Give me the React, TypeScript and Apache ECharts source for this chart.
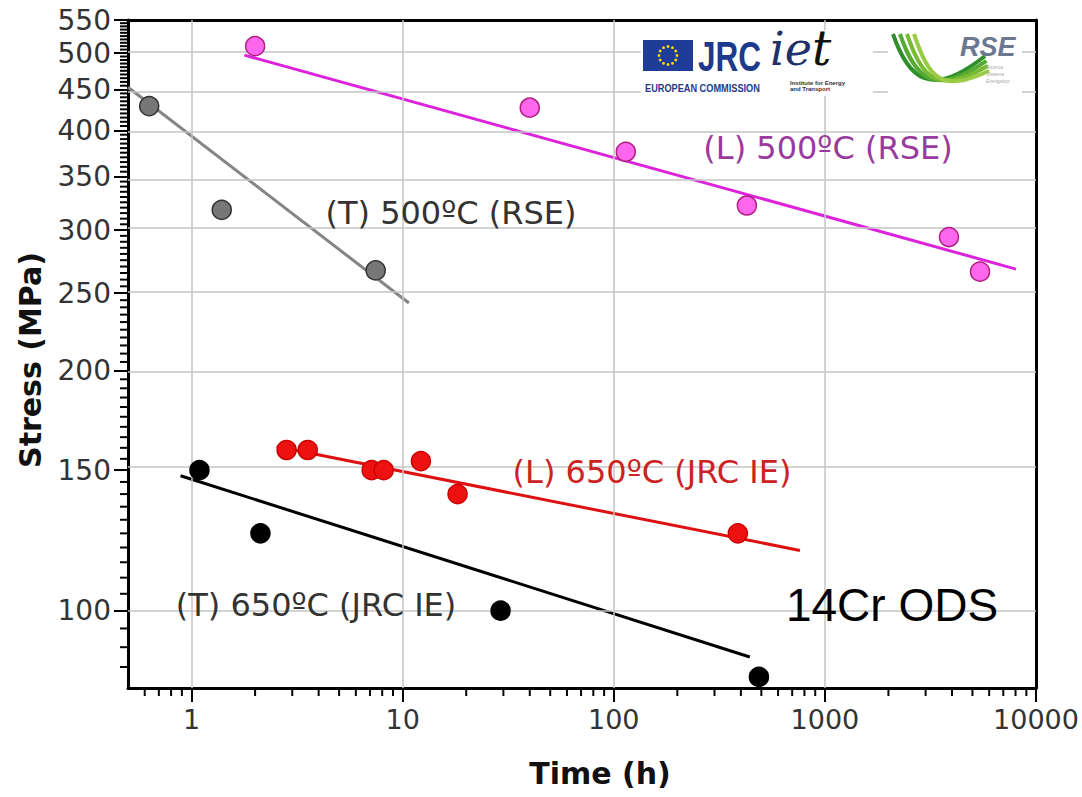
import React, { useEffect, useRef } from "react";
import * as echarts from "echarts";

const L = (v: number) => Math.log10(v);

// axis ranges (raw units)
const timeRange = [0.5, 10000];
const stressRange = [80, 550];

// tick labels
const timeTickLabels = [1, 10, 100, 1000, 10000];
const stressTickLabels = [100, 150, 200, 250, 300, 350, 400, 450, 500, 550];
const timeGridValues = [1, 10, 100, 1000];
const stressGridValues = [100, 150, 200, 250, 300, 350, 400, 450, 500];

// (L) 500ºC (RSE)
const l500Time = [2.0, 40, 114, 427, 3870, 5430];
const l500Stress = [510, 427, 376, 322, 294, 266];
const l500FitTime = [1.78, 8040];
const l500FitStress = [497, 268];

// (T) 500ºC (RSE)
const t500Time = [0.63, 1.39, 7.45];
const t500Stress = [429, 318, 267];
const t500FitTime = [0.5, 10.7];
const t500FitStress = [453, 243];

// (L) 650ºC (JRC IE)
const l650Time = [2.82, 3.55, 7.13, 8.13, 12.2, 18.2, 387];
const l650Stress = [159, 159, 150, 150, 154, 140, 125];
const l650FitTime = [2.53, 762];
const l650FitStress = [160.6, 119];

// (T) 650ºC (JRC IE)
const t650Time = [1.09, 2.12, 29.1, 487];
const t650Stress = [150, 125, 100, 82.6];
const t650FitTime = [0.887, 441];
const t650FitStress = [147.6, 87.5];

const timeMinorTicks: number[] = [];
for (const d of [0.1, 1, 10, 100, 1000]) {
  for (let k = 2; k <= 9; k++) {
    const v = k * d;
    if (v > 0.5001 && v < 10000) timeMinorTicks.push(v);
  }
}
const stressMinorTicks: number[] = [];
for (let v = 85; v <= 545; v += 5) {
  if (v % 50 !== 0) stressMinorTicks.push(v);
}

const pts = (t: number[], s: number[]) => t.map((x, i) => [L(x), L(s[i])]);

const TICK_FONT = "DejaVu Sans";

function buildOption() {
  const xmin = L(timeRange[0]);
  const xmax = L(timeRange[1]);
  const ymin = L(stressRange[0]);
  const ymax = L(stressRange[1]);

  const baseX = { type: "value", min: xmin, max: xmax, splitLine: { show: false } };
  const baseY = { type: "value", min: ymin, max: ymax, splitLine: { show: false } };

  const scatter = (name: string, data: number[][], fill: string, border: string) => ({
    type: "scatter",
    name,
    data,
    symbol: "circle",
    symbolSize: 19,
    z: 5,
    itemStyle: { color: fill, borderColor: border, borderWidth: 1.5, opacity: 1 },
  });
  const fit = (name: string, data: number[][], color: string) => ({
    type: "line",
    name,
    data,
    showSymbol: false,
    symbol: "none",
    z: 4,
    lineStyle: { color, width: 3 },
  });

  const minorTicks = (name: string, data: number[][], horizontal: boolean) => ({
    type: "custom",
    name,
    data,
    z: 10,
    silent: true,
    clip: false,
    encode: { x: 0, y: 1 },
    renderItem: (_params: any, api: any) => {
      const p = api.coord([api.value(0), api.value(1)]);
      const shape = horizontal
        ? { x1: p[0] - 8, y1: p[1], x2: p[0], y2: p[1] }
        : { x1: p[0], y1: p[1], x2: p[0], y2: p[1] + 8 };
      return { type: "line", shape, style: { stroke: "#000", lineWidth: 2 } };
    },
  });

  const graphic: any[] = [];
  const text = (t: string, x: number, y: number, font: string, fill: string, extra: any = {}) => ({
    type: "text",
    x,
    y,
    z: 100,
    ...extra,
    style: {
      text: t,
      font,
      fill,
      align: extra.align || "center",
      textAlign: extra.align || "center",
      verticalAlign: "middle",
      textVerticalAlign: "middle",
    },
  });
  const ltext = (t: string, x: number, y: number, font: string, fill: string, extra: any = {}) => ({
    type: "text",
    x,
    y,
    z: 100,
    ...extra,
    style: { text: t, font, fill, lineHeight: extra.lineHeight, align: "left", textAlign: "left", verticalAlign: "top", textVerticalAlign: "top" },
  });

  // axis titles
  graphic.push(text("Stress (MPa)", 30, 360, `bold 30px "${TICK_FONT}"`, "#111", { rotation: Math.PI / 2 }));
  graphic.push(text("Time (h)", 600, 773, `bold 30px "${TICK_FONT}"`, "#111"));

  // series annotations
  graphic.push(text("(L) 500ºC (RSE)", 828, 148, `32px "${TICK_FONT}"`, "#9a3a9e"));
  graphic.push(text("(T) 500ºC (RSE)", 451, 213, `32px "${TICK_FONT}"`, "#333333"));
  graphic.push(text("(L) 650ºC (JRC IE)", 652, 472, `32px "${TICK_FONT}"`, "#cc2222"));
  graphic.push(text("(T) 650ºC (JRC IE)", 316, 605, `32px "${TICK_FONT}"`, "#333333"));
  graphic.push(text("14Cr ODS", 892, 605, `46px "Liberation Sans"`, "#000000"));

  // logos: white backgrounds
  graphic.push({ type: "rect", z: 90, shape: { x: 641, y: 32, width: 132, height: 64 }, style: { fill: "#ffffff" } });
  graphic.push({ type: "rect", z: 90, shape: { x: 773, y: 30, width: 100, height: 66 }, style: { fill: "#ffffff" } });
  graphic.push({ type: "rect", z: 90, shape: { x: 888, y: 30, width: 134, height: 64 }, style: { fill: "#ffffff" } });

  // EU flag
  graphic.push({ type: "rect", z: 100, shape: { x: 643, y: 40, width: 50, height: 31 }, style: { fill: "#1f3c99" } });
  for (let i = 0; i < 12; i++) {
    const a = (i / 12) * Math.PI * 2;
    graphic.push({
      type: "circle",
      z: 101,
      shape: { cx: 668 + Math.cos(a) * 9, cy: 55.5 + Math.sin(a) * 9, r: 1.4 },
      style: { fill: "#ffdd00" },
    });
  }
  graphic.push(ltext("JRC", 698, 35, 'bold 42px "Liberation Sans"', "#1d3a8c", { scaleX: 0.75 }));
  graphic.push(ltext("EUROPEAN COMMISSION", 645, 83, 'bold 10px "Liberation Sans"', "#1d3a8c", { scaleX: 0.92 }));
  graphic.push(ltext("ie", 770, 26, 'italic 46px "DejaVu Serif"', "#22306a"));
  graphic.push(ltext("t", 812, 24, 'italic 48px "DejaVu Serif"', "#111111"));
  graphic.push(ltext("Institute for Energy\nand Transport", 790, 80, 'bold 6px "Liberation Sans"', "#333333", { lineHeight: 6 }));

  // RSE swoosh
  const greens = ["#2f8f2a", "#55aa33", "#77bb33", "#99cc44"];
  greens.forEach((c, i) => {
    const d = i * 7;
    graphic.push({
      type: "bezierCurve",
      z: 100,
      shape: { x1: 893 + d, y1: 34, cpx1: 908 + d, cpy1: 78, cpx2: 930 + d * 0.5, cpy2: 100 - d * 0.3, x2: 985 + d * 0.2, y2: 56 + d * 0.7 },
      style: { stroke: c, lineWidth: 4, fill: "none" },
    });
  });
  graphic.push(ltext("RSE", 960, 33, 'italic bold 27px "Liberation Sans"', "#6a7890"));
  graphic.push(ltext("Ricerca\nSistema\nEnergetico", 986, 63, '5px "Liberation Sans"', "#aaaaaa", { lineHeight: 7 }));

  return {
    animation: false,
    backgroundColor: "#ffffff",
    grid: { left: 128, right: 46, top: 20, bottom: 109, containLabel: false },
    xAxis: [
      {
        ...baseX,
        position: "bottom",
        axisLine: { show: true, onZero: false, lineStyle: { color: "#000", width: 3 } },
        axisTick: { show: true, inside: false, length: 14, lineStyle: { color: "#000", width: 2 }, customValues: timeTickLabels.map(L) },
        axisLabel: {
          show: true,
          margin: 18,
          customValues: timeTickLabels.map(L),
          formatter: (v: number) => String(Math.round(Math.pow(10, v))),
          fontFamily: TICK_FONT,
          fontSize: 27,
          color: "#333",
        },
      },
      {
        ...baseX,
        position: "top",
        axisLine: { show: true, onZero: false, lineStyle: { color: "#000", width: 3 } },
        axisTick: { show: false },
        axisLabel: { show: false },
      },
    ],
    yAxis: [
      {
        ...baseY,
        position: "left",
        axisLine: { show: true, onZero: false, lineStyle: { color: "#000", width: 3 } },
        axisTick: { show: true, inside: false, length: 14, lineStyle: { color: "#000", width: 2 }, customValues: stressTickLabels.map(L) },
        axisLabel: {
          show: true,
          margin: 17,
          customValues: stressTickLabels.map(L),
          formatter: (v: number) => String(Math.round(Math.pow(10, v))),
          fontFamily: TICK_FONT,
          fontSize: 28,
          color: "#333",
        },
      },
      {
        ...baseY,
        position: "right",
        axisLine: { show: true, onZero: false, lineStyle: { color: "#000", width: 3 } },
        axisTick: { show: false },
        axisLabel: { show: false },
      },
    ],
    series: [
      {
        type: "line",
        name: "grid",
        data: [],
        z: 1,
        silent: true,
        markLine: {
          silent: true,
          symbol: ["none", "none"],
          label: { show: false },
          lineStyle: { color: "#c4c4c4", width: 1.5, type: "solid" },
          data: [
            ...timeGridValues.map((v) => ({ xAxis: L(v) })),
            ...stressGridValues.map((v) => ({ yAxis: L(v) })),
          ],
        },
      },
      minorTicks("time minor ticks", timeMinorTicks.map((v) => [L(v), ymin]), false),
      minorTicks("stress minor ticks", stressMinorTicks.map((v) => [xmin, L(v)]), true),
      fit("(L) 500ºC (RSE) fit", pts(l500FitTime, l500FitStress), "#dd22dd"),
      fit("(T) 500ºC (RSE) fit", pts(t500FitTime, t500FitStress), "#858585"),
      fit("(L) 650ºC (JRC IE) fit", pts(l650FitTime, l650FitStress), "#dd1111"),
      fit("(T) 650ºC (JRC IE) fit", pts(t650FitTime, t650FitStress), "#000000"),
      scatter("(L) 500ºC (RSE)", pts(l500Time, l500Stress), "#ff66ee", "#b0207f"),
      scatter("(T) 500ºC (RSE)", pts(t500Time, t500Stress), "#777777", "#333333"),
      scatter("(L) 650ºC (JRC IE)", pts(l650Time, l650Stress), "#ee1111", "#cc0000"),
      scatter("(T) 650ºC (JRC IE)", pts(t650Time, t650Stress), "#000000", "#000000"),
    ],
    graphic,
  };
}

export default function App() {
  const ref = useRef<HTMLDivElement>(null);
  useEffect(() => {
    if (!ref.current) return;
    const chart = echarts.init(ref.current, undefined, { renderer: "svg" });
    chart.setOption(buildOption() as any);
    return () => chart.dispose();
  }, []);
  return (
    <div
      ref={ref}
      style={{ position: "absolute", left: 0, top: 0, width: 1082, height: 797, background: "#fff" }}
    />
  );
}
